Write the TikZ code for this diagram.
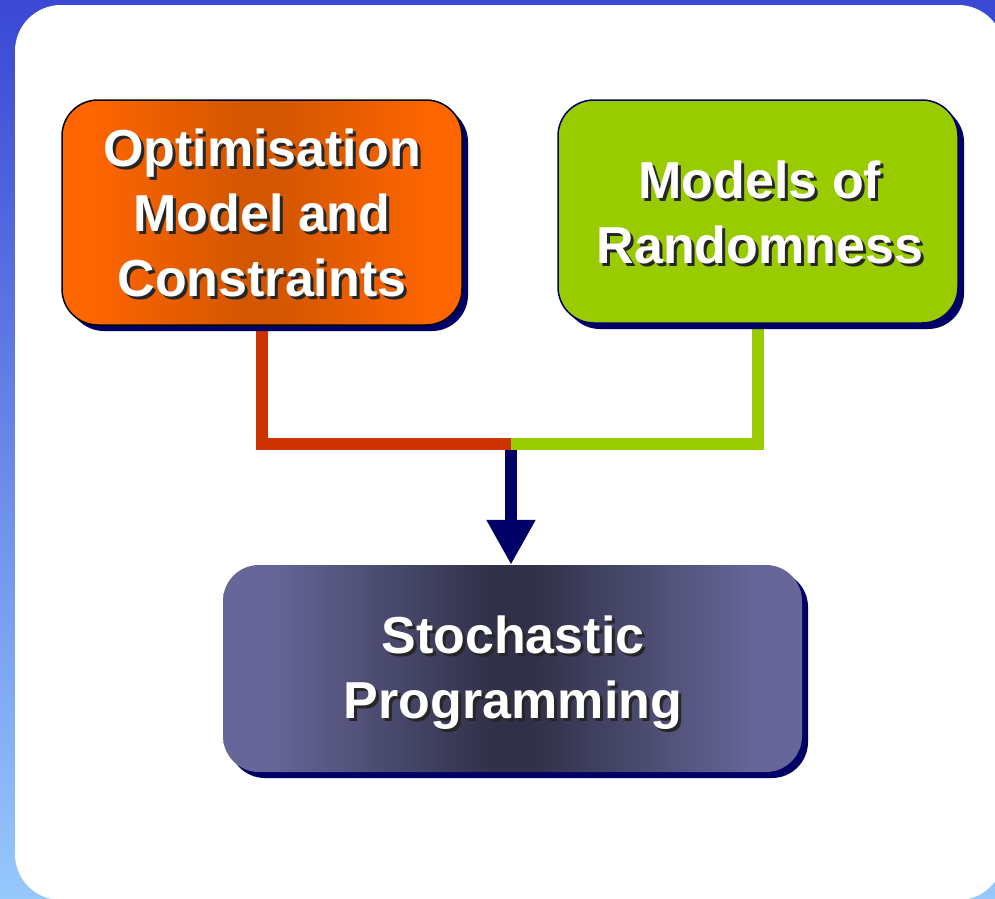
\documentclass[tikz,border=0pt]{standalone}
\usepackage{fontspec}
\setmainfont{Liberation Sans}
\usetikzlibrary{arrows.meta,shadows,backgrounds}

\definecolor{navyc}{RGB}{0,0,102}
\definecolor{skytop}{RGB}{58,72,212}
\definecolor{skybot}{RGB}{150,200,252}
\definecolor{orangeedge}{RGB}{255,102,0}
\definecolor{orangemid}{RGB}{211,86,0}
\definecolor{limec}{RGB}{153,204,0}
\definecolor{rustc}{RGB}{204,51,0}
\definecolor{violetedge}{RGB}{102,102,153}
\definecolor{violetmid}{RGB}{48,48,72}

% side-to-middle bands (the 25bp..75bp span is what covers the box):
% flat near the edges, darkest in the centre
\pgfdeclarehorizontalshading{orangeband}{100bp}{color(0bp)=(orangeedge); color(28bp)=(orangeedge);
  color(48bp)=(orangemid); color(52bp)=(orangemid); color(72bp)=(orangeedge); color(100bp)=(orangeedge)}
\pgfdeclarehorizontalshading{violetband}{100bp}{color(0bp)=(violetedge); color(29bp)=(violetedge);
  color(48.5bp)=(violetmid); color(51.5bp)=(violetmid); color(71bp)=(violetedge); color(100bp)=(violetedge)}

% white lettering with a dark offset copy behind it
\newcommand{\shtxt}[1]{\rlap{\hspace{3pt}\raisebox{-3pt}{\textcolor{black!85}{#1}}}#1}

\begin{document}
\begin{tikzpicture}[x=1pt,y=-1pt,
  box/.style={rectangle, rounded corners=36pt, inner sep=0pt,
    drop shadow={shadow xshift=6pt, shadow yshift=-6pt, fill=navyc, opacity=1}},
  label/.style={text=white, align=center, inner sep=0pt,
    font=\fontsize{52}{65}\selectfont\bfseries},
  link/.style={line width=12pt}]

\useasboundingbox (0,0) rectangle (995,898);

% the three boxes
\node[box, draw=black, line width=1.5pt, shading=orangeband,
      minimum width=400pt, minimum height=225pt] (opt) at (262,212.5) {};
\node[box, draw=navyc, line width=1.5pt, fill=limec,
      minimum width=400pt, minimum height=223pt] (rnd) at (758,211.5) {};
\node[box, shading=violetband,
      minimum width=579pt, minimum height=207pt] (sp) at (512.5,668.5) {};

% their captions
\node[label] (optT) at (262,214) {\shtxt{Optimisation}\\\shtxt{Model and}\\\shtxt{Constraints}};
\node[label] (rndT) at (760,214) {\shtxt{Models of}\\\shtxt{Randomness}};
\node[label] (spT) at (513,674) {\shtxt{Stochastic}\\\shtxt{Programming}};

\coordinate (j) at (511,444);

\begin{scope}[on background layer]
  \fill[top color=skytop, bottom color=skybot] (0,0) rectangle (995,898);
  \fill[white, rounded corners=46pt] (15,5) rectangle (1004,900);
  \draw[navyc, link, -{Triangle[width=46pt,length=45pt]}] (j) -- (j |- sp.north);
  \draw[rustc, link] (opt.south) |- (j);
  \draw[limec, link] (rnd.south) |- (j);
\end{scope}
\end{tikzpicture}
\end{document}
